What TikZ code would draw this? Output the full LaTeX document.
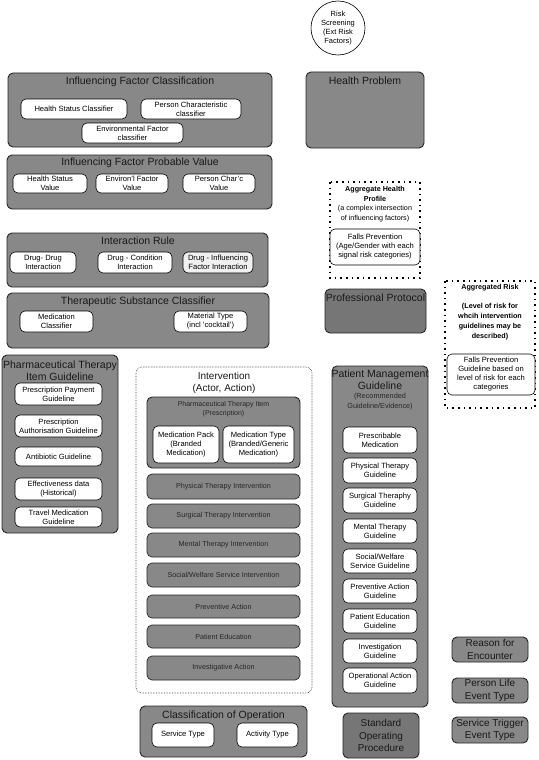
\documentclass[tikz,border=0pt]{standalone}
\usepackage{fontspec}
\setmainfont{Liberation Sans}
\definecolor{boxgray}{RGB}{136,136,136}
\definecolor{darkgray2}{RGB}{118,118,118}
\tikzset{
  grp/.style={draw=black!85, line width=0.9pt, fill=boxgray, rounded corners=5pt, inner sep=0pt},
  darkgrp/.style={grp, fill=darkgray2},
  sub/.style={draw=black, line width=0.6pt, fill=white, rounded corners=5pt, inner sep=1pt, align=center, font=\fontsize{7.6}{9}\selectfont},
  graysub/.style={sub, fill=gray!12},
  gsub/.style={grp, line width=0.7pt, align=center, font=\fontsize{7.2}{8.5}\selectfont, text=black!85},
  title/.style={font=\fontsize{10.5}{12}\selectfont, align=center, inner sep=0pt, text=black!90},
  smalltitle/.style={font=\fontsize{7}{8.5}\selectfont, align=center, inner sep=0pt, text=black!85},
  agg/.style={draw=black, line width=1.3pt, dash pattern=on 1.6pt off 4pt},
  dotgrp/.style={draw=black!85, line width=0.6pt, densely dotted, rounded corners=6pt},
  boldtxt/.style={font=\bfseries\fontsize{7.2}{10}\selectfont, align=center, inner sep=0pt},
}
\newcommand\rbox[6]{\node[#1, minimum width={(#4-#2)*1pt}, minimum height={(#5-#3)*1pt}] (#6) at ({(#2+#4)/2},{(#3+#5)/2})}
\begin{document}
\begin{tikzpicture}[x=1pt,y=-1pt]
\useasboundingbox (0,0) rectangle (538,760);
% Risk screening
\node[circle, draw=black, line width=0.6pt, minimum size=54pt, inner sep=0pt, align=center, font=\fontsize{7.5}{9}\selectfont] (risk) at (338,28) {Risk\\Screening\\(Ext Risk\\Factors)};
% Health problem
\rbox{grp}{306}{72}{424}{148}{hp} {};
\node[title] (hpt) at (365,81) {Health Problem};
% Influencing Factor Classification
\rbox{grp}{8}{73}{272}{147}{ifc} {};
\node[title] (ifct) at (140,82) {Influencing Factor Classification};
\rbox{sub}{21}{99}{127}{119}{hsc} {Health Status Classifier};
\rbox{sub}{141}{99}{241}{119}{pcc} {Person Characteristic\\classifier};
\rbox{sub}{82}{123}{183}{143}{efc} {Environmental Factor\\classifier};
% Influencing Factor Probable Value
\rbox{grp}{7}{155}{272}{209}{ifpv} {};
\node[title] (ifpvt) at (140,163) {Influencing Factor Probable Value};
\rbox{sub}{13}{174}{87}{193}{hsv} {Health Status\\Value};
\rbox{sub}{96}{174}{168}{193}{efv} {Environ'l Factor\\Value};
\rbox{sub}{183}{174}{255}{193}{pcv} {Person Char'c\\Value};
% Interaction Rule
\rbox{grp}{7}{233}{268}{287}{ir} {};
\node[title] (irt) at (138,241) {Interaction Rule};
\rbox{sub}{10}{252}{76}{273}{dd} {Drug- Drug\\Interaction};
\rbox{sub}{98}{252}{172}{273}{dc} {Drug - Condition\\Interaction};
\rbox{graysub}{183}{252}{253}{273}{dif} {Drug - Influencing\\Factor Interaction};
% Therapeutic Substance Classifier
\rbox{grp}{7}{293}{269}{348}{tsc} {};
\node[title] (tsct) at (138,302) {Therapeutic Substance Classifier};
\rbox{sub}{20}{311}{93}{332}{mc} {Medication\\Classifier};
\rbox{sub}{174}{311}{247}{332}{mt} {Material Type\\(incl 'cocktail')};
% Aggregate Health Profile
\draw[agg] (330,182) rectangle (420,278);
\node[boldtxt] (ahpt) at (375,194) {Aggregate Health\\Profile};
\node[font=\fontsize{7.2}{10}\selectfont, align=center, inner sep=0pt] (ahps) at (375,214) {(a complex intersection\\of influencing factors)};
\rbox{sub}{330}{229}{420}{265}{fp} {Falls Prevention\\(Age/Gender with each\\signal risk categories)};
% Professional Protocol
\rbox{darkgrp}{325}{289}{426}{333}{pp} {};
\node[title] (ppt) at (375.5,298) {Professional Protocol};
% Aggregated Risk
\draw[agg] (445,281) rectangle (535,408);
\node[boldtxt] (art) at (490,288) {Aggregated Risk};
\node[boldtxt] (ars) at (490,322) {(Level of risk for\\whcih intervention\\guidelines may be\\described)};
\rbox{sub}{447}{354}{535}{395}{fpg} {Falls Prevention\\Guideline based on\\level of risk for each\\categories};
% Pharmaceutical Therapy Item Guideline
\rbox{grp}{2}{355}{118}{533}{ptig} {};
\node[title] (ptigt) at (60,371) {Pharmaceutical Therapy\\Item Guideline};
\rbox{sub}{15}{383}{102}{405}{ppg} {Prescription Payment\\Guideline};
\rbox{sub}{15}{415}{102}{437}{pag} {Prescription\\Authorisation Guideline};
\rbox{sub}{15}{447}{102}{466}{abg} {Antibiotic Guideline};
\rbox{sub}{15}{478}{102}{500}{edh} {Effectiveness data\\(Historical)};
\rbox{sub}{15}{507}{102}{527}{tmg} {Travel Medication\\Guideline};
% Intervention
\draw[dotgrp] (136,367) rectangle (312,693);
\node[title, font=\fontsize{10}{12.5}\selectfont] (intt) at (224,383) {Intervention\\(Actor, Action)};
\rbox{grp}{147}{397}{300}{468}{pti} {};
\node[smalltitle] (ptit) at (223.5,409) {Pharmaceutical Therapy Item\\(Prescription)};
\rbox{sub}{153}{426}{219}{463}{mp} {Medication Pack\\(Branded\\Medication)};
\rbox{sub}{223}{426}{294}{463}{mty} {Medication Type\\(Branded/Generic\\Medication)};
\rbox{gsub}{147}{474}{300}{499}{pti1} {Physical Therapy Intervention};
\rbox{gsub}{147}{504}{300}{528}{sti} {Surgical Therapy Intervention};
\rbox{gsub}{147}{533}{300}{557}{mti} {Mental Therapy Intervention};
\rbox{gsub}{147}{563}{300}{587}{swi} {Social/Welfare Service Intervention};
\rbox{gsub}{147}{595}{300}{618}{pa} {Preventive Action};
\rbox{gsub}{147}{625}{300}{648}{pe} {Patient Education};
\rbox{gsub}{147}{656}{300}{680}{ia} {Investigative Action};
% Classification of Operation
\rbox{grp}{140}{706}{307}{757}{co} {};
\node[title] (cot) at (223.5,716) {Classification of Operation};
\rbox{sub}{152}{723}{214}{747}{st} {Service Type};
\rbox{sub}{237}{723}{298}{747}{at} {Activity Type};
% Patient Management Guideline
\rbox{grp}{332}{366}{428}{707}{pmg} {};
\node[title] (pmgt) at (380,380) {Patient Management\\Guideline};
\node[smalltitle, font=\fontsize{7.3}{10}\selectfont] (pmgs) at (380,402) {(Recommended\\Guideline/Evidence)};
\rbox{sub}{343}{427}{417}{453}{pm} {Prescribable\\Medication};
\rbox{sub}{343}{458}{417}{483}{ptg} {Physical Therapy\\Guideline};
\rbox{sub}{343}{488}{417}{513}{stg} {Surgical Theraphy\\Guideline};
\rbox{sub}{343}{519}{417}{543}{mtg} {Mental Therapy\\Guideline};
\rbox{sub}{343}{549}{417}{573}{swg} {Social/Welfare\\Service Guideline};
\rbox{sub}{343}{579}{417}{603}{pag2} {Preventive Action\\Guideline};
\rbox{sub}{343}{609}{417}{633}{peg} {Patient Education\\Guideline};
\rbox{sub}{343}{639}{417}{663}{ig} {Investigation\\Guideline};
\rbox{sub}{343}{668}{417}{693}{oag} {Operational Action\\Guideline};
% Standard Operating Procedure
\rbox{darkgrp}{343}{713}{419}{758}{sop} {};
\node[title, font=\fontsize{10}{12.5}\selectfont] (sopt) at (381,735.5) {Standard\\Operating\\Procedure};
% Right small boxes
\rbox{grp}{452}{637}{528}{662}{rfe} {};
\node[title, font=\fontsize{10}{12.5}\selectfont] (rfet) at (490,649.5) {Reason for\\Encounter};
\rbox{grp}{452}{678}{528}{703}{ple} {};
\node[title, font=\fontsize{10}{12.5}\selectfont] (plet) at (490,690.5) {Person Life\\Event Type};
\rbox{grp}{452}{717}{528}{743}{ste} {};
\node[title, font=\fontsize{10}{12.5}\selectfont] (stet) at (490,730) {Service Trigger\\Event Type};
\end{tikzpicture}
\end{document}
